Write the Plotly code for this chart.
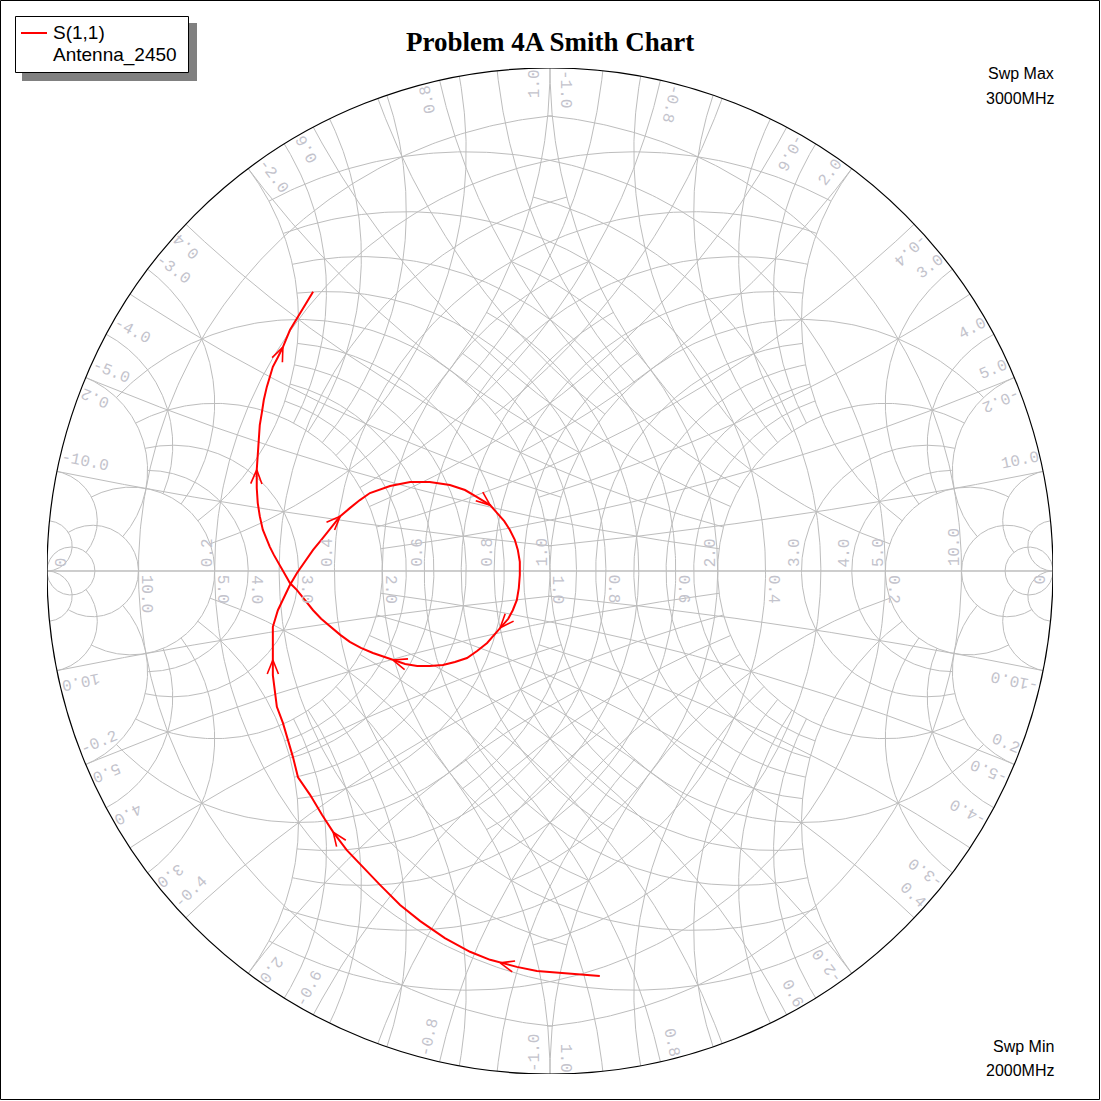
import numpy as np
import plotly.graph_objects as go

# ---------------- data ----------------
TITLE = "Problem 4A Smith Chart"
TRACE_NAME = "S(1,1)"
TRACE_SUB = "Antenna_2450"
SWP_MAX = ["Swp Max", "3000MHz"]
SWP_MIN = ["Swp Min", "2000MHz"]

# S11 reflection coefficient (real / imag), sweep 2000 MHz -> 3000 MHz
S11_RE = [0.099, 0.074, 0.020, -0.026, -0.066, -0.099, -0.119, -0.159, -0.209, -0.258,
          -0.298, -0.338, -0.374, -0.404, -0.431, -0.453, -0.477, -0.501, -0.511, -0.521,
          -0.531, -0.543, -0.547, -0.551, -0.551, -0.551, -0.551, -0.541, -0.529, -0.517,
          -0.503, -0.487, -0.471, -0.453, -0.437, -0.417, -0.398, -0.378, -0.358, -0.318,
          -0.278, -0.239, -0.199, -0.169, -0.145, -0.119, -0.105, -0.091, -0.080, -0.070,
          -0.064, -0.060, -0.060, -0.062, -0.066, -0.074, -0.083, -0.099, -0.113, -0.125,
          -0.145, -0.165, -0.189, -0.213, -0.239, -0.264, -0.288, -0.312, -0.332, -0.352,
          -0.376, -0.398, -0.417, -0.437, -0.455, -0.471, -0.487, -0.503, -0.517, -0.529,
          -0.541, -0.549, -0.557, -0.565, -0.571, -0.577, -0.581, -0.583, -0.583, -0.581,
          -0.579, -0.577, -0.573, -0.569, -0.563, -0.557, -0.551, -0.541, -0.531, -0.517,
          -0.501, -0.487, -0.471]
S11_IM = [-0.805, -0.803, -0.799, -0.795, -0.787, -0.779, -0.773, -0.757, -0.730, -0.696,
          -0.664, -0.624, -0.586, -0.555, -0.519, -0.485, -0.445, -0.410, -0.370, -0.336,
          -0.302, -0.270, -0.237, -0.207, -0.177, -0.147, -0.111, -0.078, -0.052, -0.028,
          -0.004, 0.018, 0.042, 0.064, 0.085, 0.109, 0.125, 0.141, 0.155, 0.169,
          0.177, 0.177, 0.171, 0.161, 0.147, 0.131, 0.115, 0.099, 0.082, 0.062,
          0.042, 0.018, -0.008, -0.034, -0.058, -0.078, -0.095, -0.113, -0.129, -0.143,
          -0.159, -0.173, -0.181, -0.187, -0.189, -0.189, -0.185, -0.177, -0.171, -0.163,
          -0.153, -0.141, -0.127, -0.111, -0.095, -0.078, -0.058, -0.038, -0.024, -0.004,
          0.016, 0.032, 0.048, 0.066, 0.082, 0.109, 0.135, 0.165, 0.201, 0.231,
          0.260, 0.290, 0.314, 0.340, 0.366, 0.386, 0.406, 0.425, 0.445, 0.479,
          0.505, 0.529, 0.555]
ARROW_IDX = [5, 14, 24, 35, 45, 57, 67, 88, 98]

# Smith grid: constant-resistance circles (with |x| extent) and reactance arcs (with r extent)
GRID_R = [0.1, 0.2, 0.3, 0.4, 0.5, 0.6, 0.7, 0.8, 0.9, 1.0, 1.2, 1.4, 1.6, 1.8, 2.0, 3.0, 4.0, 5.0, 10.0, 20.0]
GRID_R_XMAX = [1, 2, 1, 2, 1, 2, 1, 2, 1, 5, 2, 2, 2, 2, 5, 5, 5, 10, 20, np.inf]
GRID_X = [0.1, 0.2, 0.3, 0.4, 0.5, 0.6, 0.7, 0.8, 0.9, 1.0, 1.2, 1.4, 1.6, 1.8, 2.0, 3.0, 4.0, 5.0, 10.0, 20.0]
GRID_X_RMAX = [1, 2, 1, 2, 1, 2, 1, 2, 1, 5, 2, 2, 2, 2, 5, 5, 5, 10, 20, np.inf]
AXIS_LABELS = [0.2, 0.4, 0.6, 0.8, 1.0, 2.0, 3.0, 4.0, 5.0, 10.0]
RIM_LABELS = [0.2, 0.4, 0.6, 0.8, 1.0, 2.0, 3.0, 4.0, 5.0, 10.0]

# ---------------- geometry helpers ----------------
W = H = 1101
ML, MR, MT, MB = 47, 48, 68, 27
R_PX = (W - ML - MR) / 2.0
U = 1.0 / R_PX  # one pixel in reflection-coefficient units
GRID_COL = "#bdbdbd"
LBL_COL = "#c3c3cc"


def r_circle(r, xmax, n=361):
    bmax = np.arctan(xmax / (1 + r)) if np.isfinite(xmax) else np.pi / 2 * 0.99999
    b = np.linspace(-bmax, bmax, n)
    return r / (r + 1) - np.exp(-2j * b) / (r + 1)


def x_arc(x, rmax, n=241):
    ax = abs(x)
    glo = np.arctan2(ax, rmax + 1) if np.isfinite(rmax) else 1e-5
    ghi = np.arctan2(ax, 1.0)
    gam = np.linspace(glo, ghi, n)
    rr = ax / np.tan(gam) - 1
    z = rr + 1j * ax
    g = (z - 1) / (z + 1)
    return g if x > 0 else np.conj(g)


curves = []
for r, xm in zip(GRID_R, GRID_R_XMAX):
    curves.append(r_circle(r, xm))
for x, rm in zip(GRID_X, GRID_X_RMAX):
    curves.append(x_arc(x, rm))
    curves.append(x_arc(-x, rm))
zr = np.array([0.0, 1e12])
curves.append((zr - 1) / (zr + 1) + 0j)  # real axis
all_curves = curves + [-c for c in curves]  # admittance grid = impedance grid rotated 180 deg

gx, gy = [], []
for c in all_curves:
    gx += list(c.real) + [None]
    gy += list(c.imag) + [None]

fig = go.Figure()
fig.add_trace(go.Scatter(x=gx, y=gy, mode="lines", line=dict(color=GRID_COL, width=1),
                         hoverinfo="skip", showlegend=False))

# S11 trace
fig.add_trace(go.Scatter(x=S11_RE, y=S11_IM, mode="lines", line=dict(color="#ff0000", width=2),
                         name=TRACE_NAME, showlegend=False))

# direction chevrons
re = np.array(S11_RE)
im = np.array(S11_IM)
ax_, ay_ = [], []
L = 15 * U
for i in ARROW_IDX:
    d = np.array([re[i + 1] - re[i - 1], im[i + 1] - im[i - 1]])
    d /= np.hypot(*d)
    for s in (1, -1):
        a = np.deg2rad(22) * s
        rot = np.array([d[0] * np.cos(a) - d[1] * np.sin(a), d[0] * np.sin(a) + d[1] * np.cos(a)])
        ax_ += [re[i], re[i] - L * rot[0], None]
        ay_ += [im[i], im[i] - L * rot[1], None]
fig.add_trace(go.Scatter(x=ax_, y=ay_, mode="lines", line=dict(color="#ff0000", width=1.6),
                         hoverinfo="skip", showlegend=False))

ann = []
LFONT = dict(family="Liberation Mono", size=16, color=LBL_COL)
CH = 9.6  # char advance in px


def add_lbl(x, y, text, ang):
    ang = (ang + 180) % 360 - 180
    ann.append(dict(x=x, y=y, xref="x", yref="y", text=text, showarrow=False, textangle=ang,
                    xanchor="center", yanchor="middle", font=LFONT))


# axis labels (resistance / conductance)
for v in AXIS_LABELS:
    t = f"{v:.1f}"
    cr = (v - 1) / (v + 1)
    off = (len(t) * CH / 2 + 4) * U
    add_lbl(cr - 7 * U, off, t, -90)
    add_lbl(-cr + 7 * U, -off, t, 90)
add_lbl(-1 + 15 * U, (CH / 2 + 4) * U, "0", -90)
add_lbl(1 - 15 * U, -(CH / 2 + 4) * U, "0", 90)

# rim labels (reactance / susceptance)
for v in RIM_LABELS:
    th = 2 * np.arctan(1 / v)
    for sign in (1, -1):
        t = f"{v:.1f}" if sign > 0 else f"-{v:.1f}"
        rho = 1 - (len(t) * CH / 2 + 1.5) * U
        dth = 15 * U / rho
        if sign > 0:
            pa = th + dth
            ang = -np.degrees(th)
        else:
            pa = -th - dth
            ang = -(np.degrees(-th) + 180)
        px, py = rho * np.cos(pa), rho * np.sin(pa)
        add_lbl(px, py, t, ang)
        add_lbl(-px, -py, t, ang + 180)


def PX(p):
    return (p - ML) / (W - ML - MR)


def PY(p):
    return (H - MB - p) / (H - MT - MB)


shapes = [
    dict(type="circle", xref="x", yref="y", x0=-1, y0=-1, x1=1, y1=1,
         line=dict(color="black", width=1.2), layer="above"),
    dict(type="rect", xref="paper", yref="paper", x0=PX(0.5), y0=PY(1099.5), x1=PX(1099.5), y1=PY(0.5),
         line=dict(color="black", width=1)),
    dict(type="rect", xref="paper", yref="paper", x0=PX(22), y0=PY(81), x1=PX(197), y1=PY(23),
         fillcolor="#808080", line=dict(width=0)),
    dict(type="rect", xref="paper", yref="paper", x0=PX(15.5), y0=PY(72.5), x1=PX(188.5), y1=PY(16.5),
         fillcolor="white", line=dict(color="black", width=1)),
    dict(type="line", xref="paper", yref="paper", x0=PX(21), y0=PY(33), x1=PX(47), y1=PY(33),
         line=dict(color="#ff0000", width=2)),
]

SANS = "Liberation Sans"
ann += [
    dict(xref="paper", yref="paper", x=PX(51), y=PY(33), text=TRACE_NAME, showarrow=False,
         xanchor="left", yanchor="middle", font=dict(family=SANS, size=19, color="black")),
    dict(xref="paper", yref="paper", x=PX(51), y=PY(55), text=TRACE_SUB, showarrow=False,
         xanchor="left", yanchor="middle", font=dict(family=SANS, size=19, color="black")),
    dict(xref="paper", yref="paper", x=PX(550), y=PY(42), text="<b>" + TITLE + "</b>", showarrow=False,
         xanchor="center", yanchor="middle", font=dict(family="Liberation Serif", size=27, color="black")),
    dict(xref="paper", yref="paper", x=PX(1056), y=PY(74), text=SWP_MAX[0], showarrow=False,
         xanchor="right", yanchor="middle", font=dict(family=SANS, size=16, color="black")),
    dict(xref="paper", yref="paper", x=PX(1056), y=PY(98), text=SWP_MAX[1], showarrow=False,
         xanchor="right", yanchor="middle", font=dict(family=SANS, size=16, color="black")),
    dict(xref="paper", yref="paper", x=PX(1056), y=PY(1046), text=SWP_MIN[0], showarrow=False,
         xanchor="right", yanchor="middle", font=dict(family=SANS, size=16, color="black")),
    dict(xref="paper", yref="paper", x=PX(1056), y=PY(1070), text=SWP_MIN[1], showarrow=False,
         xanchor="right", yanchor="middle", font=dict(family=SANS, size=16, color="black")),
]

fig.update_layout(
    width=W, height=H, margin=dict(l=ML, r=MR, t=MT, b=MB),
    paper_bgcolor="white", plot_bgcolor="white",
    xaxis=dict(range=[-1, 1], visible=False, fixedrange=True),
    yaxis=dict(range=[-1, 1], visible=False, fixedrange=True),
    showlegend=False, shapes=shapes, annotations=ann,
)
fig.write_html("out.html", config={"displayModeBar": False},
               post_script="document.body.style.margin='0px';document.body.style.overflow='hidden';")
